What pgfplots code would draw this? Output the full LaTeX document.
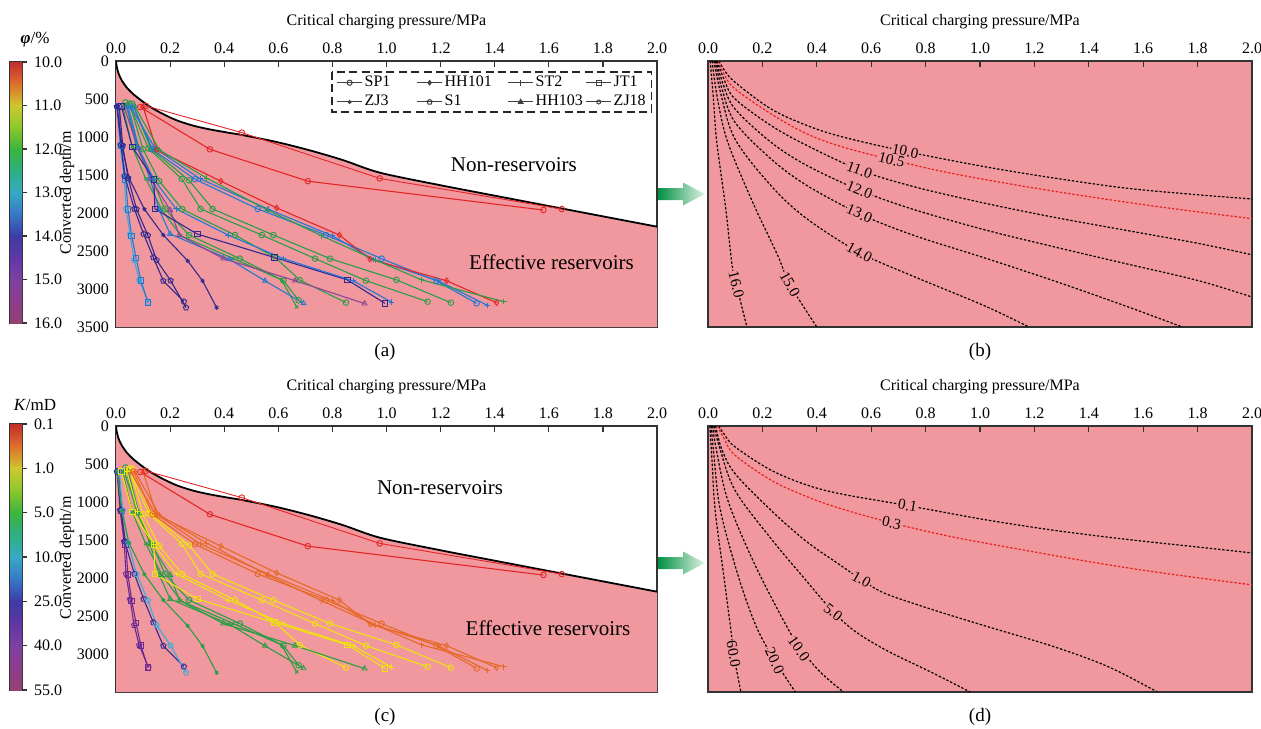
\documentclass[border=0pt]{standalone}
\usepackage{fontspec}
\setmainfont{Liberation Serif}
\usepackage{pgfplots}
\usepackage{pgfplotstable}
\pgfplotsset{compat=1.18}
\usetikzlibrary{plotmarks}

\definecolor{pinkf}{RGB}{240,152,157}
\definecolor{cRed}{RGB}{228,38,38}
\definecolor{cGreen}{RGB}{40,158,70}
\definecolor{cBlue}{RGB}{35,120,212}
\definecolor{cCyan}{RGB}{60,172,222}
\definecolor{cNavy}{RGB}{50,40,145}
\definecolor{cPurple}{RGB}{140,70,150}
\definecolor{cYellow}{RGB}{240,225,15}
\definecolor{cOrange}{RGB}{230,105,40}
\definecolor{cViolet}{RGB}{110,40,150}
\definecolor{cRedC}{RGB}{235,30,30}
\definecolor{arrowDark}{RGB}{0,145,65}
\definecolor{arrowLight}{RGB}{225,242,230}
\definecolor{cb0}{RGB}{195,45,45}
\definecolor{cb1}{RGB}{222,110,45}
\definecolor{cb2}{RGB}{205,200,45}
\definecolor{cb3}{RGB}{140,200,45}
\definecolor{cb4}{RGB}{60,180,60}
\definecolor{cb5}{RGB}{45,175,130}
\definecolor{cb6}{RGB}{55,170,195}
\definecolor{cb7}{RGB}{55,120,200}
\definecolor{cb8}{RGB}{60,60,165}
\definecolor{cb9}{RGB}{95,55,165}
\definecolor{cb10}{RGB}{125,65,160}
\definecolor{cb11}{RGB}{140,60,140}
\definecolor{cb12}{RGB}{150,65,115}

% line colours in panel (a) and panel (c)
\colorlet{LAa}{cCyan}\colorlet{LAc}{cViolet}
\colorlet{LBa}{cBlue}\colorlet{LBc}{cViolet}
\colorlet{LCa}{cNavy}\colorlet{LCc}{cNavy}
\colorlet{LDa}{cNavy}\colorlet{LDc}{cCyan}
\colorlet{LEa}{cNavy}\colorlet{LEc}{cGreen}
\colorlet{LFa}{cGreen}\colorlet{LFc}{cGreen}
\colorlet{LGa}{cGreen}\colorlet{LGc}{cGreen}
\colorlet{LHa}{cBlue}\colorlet{LHc}{cGreen}
\colorlet{LIa}{cGreen}\colorlet{LIc}{cYellow}
\colorlet{LJa}{cPurple}\colorlet{LJc}{cGreen}
\colorlet{LKa}{cNavy}\colorlet{LKc}{cYellow}
\colorlet{LLa}{cBlue}\colorlet{LLc}{cYellow}
\colorlet{LMa}{cGreen}\colorlet{LMc}{cYellow}
\colorlet{LNa}{cGreen}\colorlet{LNc}{cYellow}
\colorlet{LOa}{cBlue}\colorlet{LOc}{cOrange}
\colorlet{LPa}{cBlue}\colorlet{LPc}{cOrange}
\colorlet{LQa}{cRed}\colorlet{LQc}{cOrange}
\colorlet{LRa}{cGreen}\colorlet{LRc}{cOrange}
\colorlet{RAa}{cRed}\colorlet{RAc}{cRed}
\colorlet{RBa}{cRed}\colorlet{RBc}{cRed}

% boundary between non-reservoirs and effective reservoirs
\pgfplotstableread{
x d
0.000 0
0.003 80
0.010 170
0.022 260
0.040 350
0.062 430
0.090 510
0.125 600
0.170 690
0.224 780
0.285 850
0.347 900
0.410 940
0.471 977
0.594 1066
0.717 1176
0.840 1305
0.976 1470
1.200 1635
1.400 1772
1.600 1908
1.800 2044
2.000 2180
}\tBnd

% well data: critical charging pressure (MPa) vs converted depth (m)
\pgfplotstableread{
x d
0.005 600
0.015 1110
0.030 1520
0.037 1946
0.052 2280
0.067 2620
0.086 2885
0.120 3180
}\tLA
\pgfplotstableread{
x d
0.010 590
0.020 1120
0.036 1560
0.044 1950
0.058 2300
0.074 2590
0.092 2890
0.118 3175
}\tLB
\pgfplotstableread{
x d
0.003 600
0.018 1100
0.032 1515
0.068 1946
0.102 2276
0.138 2585
0.175 2893
0.251 3166
}\tLC
\pgfplotstableread{
x d
0.012 595
0.025 1115
0.045 1540
0.076 1950
0.118 2295
0.150 2620
0.202 2890
0.259 3245
}\tLD
\pgfplotstableread{
x d
0.004 600
0.022 1120
0.048 1540
0.105 1950
0.175 2290
0.265 2629
0.320 2893
0.372 3245
}\tLE
\pgfplotstableread{
x d
0.025 600
0.060 1130
0.110 1550
0.170 1960
0.240 2300
0.434 2600
0.612 2880
0.668 3236
}\tLF
\pgfplotstableread{
x d
0.035 545
0.075 1120
0.135 1560
0.180 1946
0.270 2290
0.458 2600
0.619 2890
0.675 3148
}\tLG
\pgfplotstableread{
x d
0.045 600
0.085 1150
0.125 1540
0.160 1960
0.200 2276
0.420 2610
0.551 2893
0.693 3188
}\tLH
\pgfplotstableread{
x d
0.050 560
0.100 1160
0.160 1580
0.245 1950
0.440 2290
0.590 2590
0.680 2884
0.850 3179
}\tLI
\pgfplotstableread{
x d
0.030 600
0.080 1140
0.130 1560
0.200 1960
0.234 2290
0.397 2600
0.662 2890
0.919 3192
}\tLJ
\pgfplotstableread{
x d
0.020 600
0.060 1130
0.140 1560
0.144 1946
0.300 2276
0.585 2585
0.855 2880
0.994 3188
}\tLK
\pgfplotstableread{
x d
0.040 600
0.080 1120
0.140 1560
0.222 1946
0.415 2290
0.619 2600
0.877 2893
1.019 3173
}\tLL
\pgfplotstableread{
x d
0.050 580
0.120 1150
0.243 1550
0.313 1946
0.539 2290
0.736 2600
0.924 2890
1.152 3167
}\tLM
\pgfplotstableread{
x d
0.060 560
0.130 1160
0.270 1570
0.357 1946
0.582 2290
0.791 2600
1.037 2880
1.238 3180
}\tLN
\pgfplotstableread{
x d
0.065 600
0.135 1162
0.292 1556
0.524 1946
0.776 2290
0.982 2600
1.185 2893
1.333 3189
}\tLO
\pgfplotstableread{
x d
0.055 610
0.145 1150
0.311 1550
0.563 1950
0.800 2300
0.951 2610
1.190 2890
1.373 3215
}\tLP
\pgfplotstableread{
x d
0.100 600
0.150 1170
0.388 1581
0.594 1933
0.826 2290
0.939 2607
1.222 2891
1.407 3180
}\tLQ
\pgfplotstableread{
x d
0.070 600
0.160 1170
0.335 1540
0.560 1960
0.760 2300
0.960 2620
1.130 2880
1.434 3167
}\tLR
\pgfplotstableread{
x d
0.110 590
0.465 942
0.975 1545
1.648 1948
}\tRA
\pgfplotstableread{
x d
0.090 605
0.347 1162
0.709 1581
1.580 1961
}\tRB

% porosity contours (b)
\pgfplotstableread{
x d
0.040 0
0.060 120
0.098 275
0.229 625
0.360 843
0.491 996
0.714 1180
1.016 1390
1.278 1543
1.540 1674
1.803 1761
2.000 1815
}\tCa
\pgfplotstableread{
x d
0.037 0
0.060 180
0.098 363
0.229 690
0.360 953
0.491 1127
0.675 1300
0.885 1470
1.147 1640
1.410 1790
1.672 1925
2.000 2075
}\tCb
\pgfplotstableread{
x d
0.033 0
0.060 250
0.098 494
0.229 843
0.360 1105
0.557 1433
0.753 1650
1.016 1870
1.278 2060
1.540 2230
1.803 2400
2.000 2550
}\tCc
\pgfplotstableread{
x d
0.030 0
0.055 300
0.098 625
0.229 1062
0.360 1368
0.557 1700
0.753 1950
1.016 2220
1.278 2450
1.540 2670
1.803 2890
2.000 3106
}\tCd
\pgfplotstableread{
x d
0.026 0
0.050 350
0.098 800
0.229 1280
0.360 1630
0.557 2010
0.753 2290
1.016 2590
1.278 2900
1.540 3230
1.744 3500
}\tCe
\pgfplotstableread{
x d
0.022 0
0.045 400
0.098 1018
0.229 1630
0.360 2067
0.557 2520
0.753 2830
1.016 3220
1.180 3500
}\tCf
\pgfplotstableread{
x d
0.015 0
0.035 500
0.072 1062
0.163 1849
0.255 2548
0.301 2941
0.400 3500
}\tCg
\pgfplotstableread{
x d
0.008 0
0.020 500
0.032 1062
0.065 1936
0.091 2750
0.115 3100
0.143 3500
}\tCh

% permeability contours (d)
\pgfplotstableread{
x d
0.039 0
0.060 110
0.098 271
0.229 576
0.360 772
0.491 895
0.734 1047
1.016 1231
1.278 1375
1.540 1492
1.803 1593
2.000 1670
}\tKa
\pgfplotstableread{
x d
0.035 0
0.060 170
0.098 380
0.229 707
0.360 925
0.491 1090
0.675 1274
0.885 1449
1.147 1623
1.410 1790
1.672 1935
2.000 2090
}\tKb
\pgfplotstableread{
x d
0.028 0
0.050 300
0.098 620
0.229 1100
0.360 1514
0.491 1842
0.564 2020
0.649 2200
0.819 2409
1.016 2627
1.278 2911
1.475 3173
1.652 3500
}\tKc
\pgfplotstableread{
x d
0.022 0
0.040 250
0.098 838
0.229 1470
0.360 2030
0.454 2420
0.540 2700
0.660 2960
0.820 3238
0.964 3500
}\tKd
\pgfplotstableread{
x d
0.017 0
0.030 300
0.072 969
0.163 1754
0.268 2496
0.334 2900
0.413 3238
0.498 3500
}\tKe
\pgfplotstableread{
x d
0.012 0
0.022 400
0.045 1100
0.111 1972
0.176 2627
0.239 3047
0.321 3500
}\tKf
\pgfplotstableread{
x d
0.007 0
0.014 400
0.026 1100
0.058 1972
0.085 2714
0.094 3000
0.121 3500
}\tKg

\tikzset{
  lab/.style={fill=pinkf, inner sep=0.4pt, font=\fontsize{7.6}{9}\selectfont},
  ttl/.style={font=\fontsize{8}{9.6}\selectfont},
}

\pgfplotsset{
  every axis/.append style={font=\fontsize{8}{9.6}\selectfont},
  panel/.style={scale only axis, anchor=south west, height=133pt,
    xmin=0, xmax=2, ymin=-3500, ymax=0,
    axis line style={line width=0.7pt, black!80},
    xtick={0,0.2,0.4,0.6,0.8,1.0,1.2,1.4,1.6,1.8,2.0},
    xtick pos=right, xticklabel pos=right,
    xticklabel style={/pgf/number format/.cd, fixed, fixed zerofill, precision=1, assume math mode=true},
    tick align=inside, major tick length=3pt,
    tick style={black!80, line width=0.6pt},
    ticklabel style={font=\fontsize{8}{9.6}\selectfont},
  },
  cbar/.style={scale only axis, anchor=south west, width=6pt,
    xmin=0, xmax=1, ymin=0, ymax=6, xtick=\empty, ytick={0,1,2,3,4,5,6},
    ytick pos=right, yticklabel pos=right, tick align=outside, major tick length=2.5pt,
    axis line style={line width=0.7pt, black!80}, tick style={black!80, line width=0.6pt},
    ticklabel style={font=\fontsize{8}{9.6}\selectfont},
  },
  wl/.style={line width=0.55pt, mark size=1.4pt, mark options={solid, line width=0.45pt}, forget plot},
  cont/.style={line width=0.6pt, dash pattern=on 1.2pt off 0.9pt, smooth, tension=0.55, no markers, forget plot},
}

\newcommand{\cbfill}{%
\shade[top color=cb0, bottom color=cb1] (axis cs:0,5.49) rectangle (axis cs:1,6);
\shade[top color=cb1, bottom color=cb2] (axis cs:0,4.99) rectangle (axis cs:1,5.51);
\shade[top color=cb2, bottom color=cb3] (axis cs:0,4.49) rectangle (axis cs:1,5.01);
\shade[top color=cb3, bottom color=cb4] (axis cs:0,3.99) rectangle (axis cs:1,4.51);
\shade[top color=cb4, bottom color=cb5] (axis cs:0,3.49) rectangle (axis cs:1,4.01);
\shade[top color=cb5, bottom color=cb6] (axis cs:0,2.99) rectangle (axis cs:1,3.51);
\shade[top color=cb6, bottom color=cb7] (axis cs:0,2.49) rectangle (axis cs:1,3.01);
\shade[top color=cb7, bottom color=cb8] (axis cs:0,1.99) rectangle (axis cs:1,2.51);
\shade[top color=cb8, bottom color=cb9] (axis cs:0,1.49) rectangle (axis cs:1,2.01);
\shade[top color=cb9, bottom color=cb10] (axis cs:0,0.99) rectangle (axis cs:1,1.51);
\shade[top color=cb10, bottom color=cb11] (axis cs:0,0.49) rectangle (axis cs:1,1.01);
\shade[top color=cb11, bottom color=cb12] (axis cs:0,0) rectangle (axis cs:1,0.51);
}

\newcommand{\boundary}{%
\addplot[fill=pinkf, draw=none, smooth, tension=0.5, forget plot] table[x=x, y expr=-\thisrow{d}] {\tBnd} -- (axis cs:2,-3500) -- (axis cs:0,-3500) -- cycle;
\addplot[black, line width=0.9pt, smooth, tension=0.5, forget plot] table[x=x, y expr=-\thisrow{d}] {\tBnd};
}

\newcommand{\drawwells}[1]{%
\addplot[wl, color=LA#1, mark=pentagon] table[x=x, y expr=-\thisrow{d}] {\tLA};
\addplot[wl, color=LB#1, mark=square] table[x=x, y expr=-\thisrow{d}] {\tLB};
\addplot[wl, color=LC#1, mark=pentagon] table[x=x, y expr=-\thisrow{d}] {\tLC};
\addplot[wl, color=LD#1, mark=pentagon] table[x=x, y expr=-\thisrow{d}] {\tLD};
\addplot[wl, color=LE#1, mark=asterisk, mark size=1.1pt] table[x=x, y expr=-\thisrow{d}] {\tLE};
\addplot[wl, color=LF#1, mark=x, mark size=1.1pt] table[x=x, y expr=-\thisrow{d}] {\tLF};
\addplot[wl, color=LG#1, mark=o] table[x=x, y expr=-\thisrow{d}] {\tLG};
\addplot[wl, color=LH#1, mark=triangle] table[x=x, y expr=-\thisrow{d}] {\tLH};
\addplot[wl, color=LI#1, mark=o] table[x=x, y expr=-\thisrow{d}] {\tLI};
\addplot[wl, color=LJ#1, mark=triangle] table[x=x, y expr=-\thisrow{d}] {\tLJ};
\addplot[wl, color=LK#1, mark=square] table[x=x, y expr=-\thisrow{d}] {\tLK};
\addplot[wl, color=LL#1, mark=+] table[x=x, y expr=-\thisrow{d}] {\tLL};
\addplot[wl, color=LM#1, mark=o] table[x=x, y expr=-\thisrow{d}] {\tLM};
\addplot[wl, color=LN#1, mark=o] table[x=x, y expr=-\thisrow{d}] {\tLN};
\addplot[wl, color=LO#1, mark=o] table[x=x, y expr=-\thisrow{d}] {\tLO};
\addplot[wl, color=LP#1, mark=+] table[x=x, y expr=-\thisrow{d}] {\tLP};
\addplot[wl, color=LQ#1, mark=diamond] table[x=x, y expr=-\thisrow{d}] {\tLQ};
\addplot[wl, color=LR#1, mark=+] table[x=x, y expr=-\thisrow{d}] {\tLR};
\addplot[wl, color=RA#1, mark=o, line width=0.45pt] table[x=x, y expr=-\thisrow{d}] {\tRA};
\addplot[wl, color=RB#1, mark=o] table[x=x, y expr=-\thisrow{d}] {\tRB};
}

\newcommand{\greenarrow}[1]{%
\shade[left color=arrowDark, right color=arrowLight]
 (329pt,{#1-3pt}) -- (341.5pt,{#1-3pt}) -- (341.5pt,{#1-5.75pt}) -- (352.5pt,#1)
 -- (341.5pt,{#1+5.75pt}) -- (341.5pt,{#1+3pt}) -- (329pt,{#1+3pt}) -- cycle;
}

\begin{document}
\begin{tikzpicture}
\path[use as bounding box] (0,0) rectangle (630.5pt,-364pt);

% ---------- colour bar (a)
\begin{axis}[cbar, at={(5pt,-161.5pt)}, height=130.5pt,
  yticklabels={16.0,15.0,14.0,13.0,12.0,11.0,10.0}]
\cbfill
\end{axis}
\node[font=\fontsize{8.5}{10}\selectfont] at (17.5pt,-20pt) {\textbf{\textit{φ}}/\%};

% ---------- panel (a)
\begin{axis}[panel, at={(58pt,-163.5pt)}, width=270.5pt,
  ytick={-3500,-3000,-2500,-2000,-1500,-1000,-500,0},
  yticklabels={3500,3000,2500,2000,1500,1000,500,0},
  ytick style={draw=none},
  legend columns=4,
  legend style={at={(axis description cs:0.407,0.953)}, anchor=north west,
    draw=none, fill=none, font=\fontsize{8}{9.6}\selectfont,
    inner sep=0pt, column sep=0pt, row sep=0.8pt, nodes={inner sep=1pt},
    /tikz/column 2/.style={text width=25pt},
    /tikz/column 4/.style={text width=30.5pt},
    /tikz/column 6/.style={text width=24pt},
    /tikz/column 8/.style={text width=20pt}},
  legend image code/.code={\draw[mark repeat=2, mark phase=2, #1] plot coordinates {(0cm,0cm) (0.22cm,0cm) (0.44cm,0cm)};},
]
\boundary
\drawwells{a}
\addlegendimage{black!75, line width=0.5pt, mark=o, mark size=1.3pt, mark options={solid}}
\addlegendentry{SP1}
\addlegendimage{black!75, line width=0.5pt, mark=diamond*, mark size=1.1pt, mark options={solid}}
\addlegendentry{HH101}
\addlegendimage{black!75, line width=0.5pt, mark=|, mark size=1.4pt, mark options={solid}}
\addlegendentry{ST2}
\addlegendimage{black!75, line width=0.5pt, mark=square, mark size=1.2pt, mark options={solid}}
\addlegendentry{JT1}
\addlegendimage{black!75, line width=0.5pt, mark=asterisk, mark size=1pt, mark options={solid}}
\addlegendentry{ZJ3}
\addlegendimage{black!75, line width=0.5pt, mark=pentagon, mark size=1.3pt, mark options={solid}}
\addlegendentry{S1}
\addlegendimage{black!75, line width=0.5pt, mark=triangle*, mark size=1.3pt, mark options={solid}}
\addlegendentry{HH103}
\addlegendimage{black!75, line width=0.5pt, mark=o, mark size=1pt, mark options={solid}}
\addlegendentry{ZJ18}
\draw[black!85, line width=0.8pt, dash pattern=on 4pt off 2.2pt]
  (axis description cs:0.399,0.959) rectangle (axis description cs:0.990,0.808);
\node[font=\fontsize{10.5}{12}\selectfont] at (axis cs:1.471,-1368) {Non-reservoirs};
\node[font=\fontsize{10.5}{12}\selectfont] at (axis cs:1.610,-2641) {Effective reservoirs};
\end{axis}
\node[ttl] at (193.25pt,-11pt) {Critical charging pressure/MPa};
\node[ttl, rotate=90] at (33.5pt,-96.5pt) {Converted depth/m};
\node[font=\fontsize{9.5}{11}\selectfont] at (192.5pt,-176pt) {(a)};

% ---------- panel (b)
\begin{axis}[panel, at={(354pt,-163.5pt)}, width=272pt, ytick=\empty,
  axis background/.style={fill=pinkf}]
\addplot[cont, black] table[x=x, y expr=-\thisrow{d}] {\tCa};
\addplot[cont, cRedC] table[x=x, y expr=-\thisrow{d}] {\tCb};
\addplot[cont, black] table[x=x, y expr=-\thisrow{d}] {\tCc};
\addplot[cont, black] table[x=x, y expr=-\thisrow{d}] {\tCd};
\addplot[cont, black] table[x=x, y expr=-\thisrow{d}] {\tCe};
\addplot[cont, black] table[x=x, y expr=-\thisrow{d}] {\tCf};
\addplot[cont, black] table[x=x, y expr=-\thisrow{d}] {\tCg};
\addplot[cont, black] table[x=x, y expr=-\thisrow{d}] {\tCh};
\node[lab, rotate=-12] at (axis cs:0.725,-1188) {10.0};
\node[lab, rotate=-14] at (axis cs:0.675,-1300) {10.5};
\node[lab, rotate=-20] at (axis cs:0.557,-1433) {11.0};
\node[lab, rotate=-22] at (axis cs:0.557,-1700) {12.0};
\node[lab, rotate=-24] at (axis cs:0.557,-2010) {13.0};
\node[lab, rotate=-28] at (axis cs:0.557,-2520) {14.0};
\node[lab, rotate=-61] at (axis cs:0.301,-2941) {15.0};
\node[lab, rotate=-76] at (axis cs:0.104,-2940) {16.0};
\end{axis}
\node[ttl] at (490pt,-11pt) {Critical charging pressure/MPa};
\node[font=\fontsize{9.5}{11}\selectfont] at (490pt,-176pt) {(b)};

% ---------- colour bar (c)
\begin{axis}[cbar, at={(5pt,-345pt)}, height=133pt,
  yticklabels={55.0,40.0,25.0,10.0,5.0,1.0,0.1}]
\cbfill
\end{axis}
\node[font=\fontsize{8.5}{10}\selectfont] at (17.5pt,-202.5pt) {\textit{K}/mD};

% ---------- panel (c)
\begin{axis}[panel, at={(58pt,-346pt)}, width=270.5pt,
  ytick={-3500,-3000,-2500,-2000,-1500,-1000,-500,0},
  yticklabels={,3000,2500,2000,1500,1000,500,0},
  ytick style={draw=none}]
\boundary
\drawwells{c}
\node[font=\fontsize{10.5}{12}\selectfont] at (axis cs:1.198,-816) {Non-reservoirs};
\node[font=\fontsize{10.5}{12}\selectfont] at (axis cs:1.597,-2654) {Effective reservoirs};
\end{axis}
\node[ttl] at (193.25pt,-193.5pt) {Critical charging pressure/MPa};
\node[ttl, rotate=90] at (33.5pt,-279pt) {Converted depth/m};
\node[font=\fontsize{9.5}{11}\selectfont] at (192.5pt,-358.5pt) {(c)};

% ---------- panel (d)
\begin{axis}[panel, at={(354pt,-346pt)}, width=272pt, ytick=\empty,
  axis background/.style={fill=pinkf}]
\addplot[cont, black] table[x=x, y expr=-\thisrow{d}] {\tKa};
\addplot[cont, cRedC] table[x=x, y expr=-\thisrow{d}] {\tKb};
\addplot[cont, black] table[x=x, y expr=-\thisrow{d}] {\tKc};
\addplot[cont, black] table[x=x, y expr=-\thisrow{d}] {\tKd};
\addplot[cont, black] table[x=x, y expr=-\thisrow{d}] {\tKe};
\addplot[cont, black] table[x=x, y expr=-\thisrow{d}] {\tKf};
\addplot[cont, black] table[x=x, y expr=-\thisrow{d}] {\tKg};
\node[lab, rotate=-10] at (axis cs:0.734,-1047) {0.1};
\node[lab, rotate=-12] at (axis cs:0.675,-1274) {0.3};
\node[lab, rotate=-30] at (axis cs:0.564,-2020) {1.0};
\node[lab, rotate=-38] at (axis cs:0.460,-2450) {5.0};
\node[lab, rotate=-55] at (axis cs:0.334,-2930) {10.0};
\node[lab, rotate=-65] at (axis cs:0.245,-3090) {20.0};
\node[lab, rotate=-80] at (axis cs:0.094,-3000) {60.0};
\end{axis}
\node[ttl] at (490pt,-193.5pt) {Critical charging pressure/MPa};
\node[font=\fontsize{9.5}{11}\selectfont] at (490pt,-358.5pt) {(d)};

% ---------- arrows
\greenarrow{-97pt}
\greenarrow{-281.5pt}
\end{tikzpicture}
\end{document}
